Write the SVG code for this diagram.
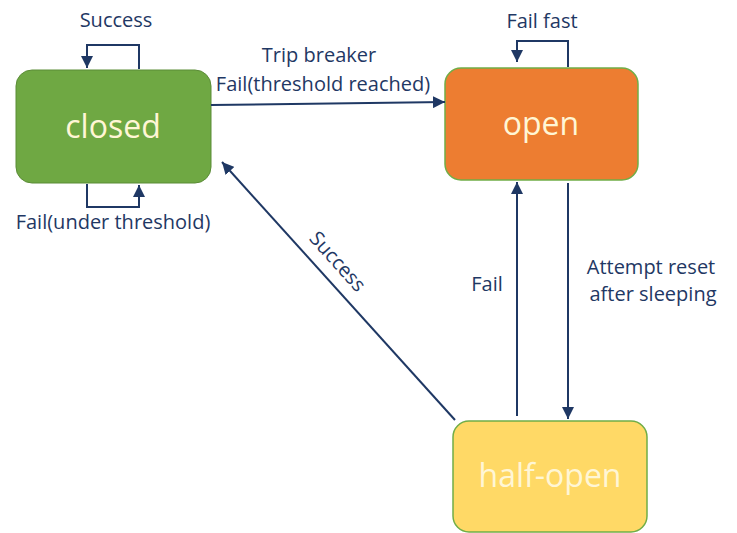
<svg xmlns="http://www.w3.org/2000/svg" width="737" height="533" viewBox="0 0 737 533">
<style>
.lbl{font-family:"Open Sans","Noto Sans",sans-serif;font-size:20px;fill:#1F3864;text-anchor:middle}
.nt{font-family:"Open Sans","Noto Sans",sans-serif;font-size:32px;fill:#FFF6D5;text-anchor:middle}
.ln{fill:none;stroke:#1F3864;stroke-width:2}
</style>
<defs>
<marker id="a" viewBox="0 0 10 10" refX="10" refY="5" markerWidth="6" markerHeight="6" orient="auto">
<path d="M0,0 L10,5 L0,10 z" fill="#1F3864"/>
</marker>
</defs>
<g id="closed">
<rect x="16" y="70" width="195" height="113" rx="16" fill="#6FA843" stroke="#5B8C37" stroke-width="1"/>
<text class="nt" x="113" y="138">closed</text>
</g>
<g id="open">
<rect x="445" y="68" width="193" height="112" rx="16" fill="#ED7D31" stroke="#70AD47" stroke-width="1.5"/>
<text class="nt" x="541" y="135">open</text>
</g>
<g id="half-open">
<rect x="453" y="421" width="194" height="111" rx="16" fill="#FFD966" stroke="#70AD47" stroke-width="1.5"/>
<text class="nt" x="550" y="487">half-open</text>
</g>
<g id="connectors">
<path class="ln" d="M139,69 V45 H87 V68" marker-end="url(#a)"/>
<path class="ln" d="M87,184 V207 H139 V185" marker-end="url(#a)"/>
<path class="ln" d="M568,67 V41 H517 V62" marker-end="url(#a)"/>
<path class="ln" d="M211,105 L445,102" marker-end="url(#a)"/>
<path class="ln" d="M517,416 V182" marker-end="url(#a)"/>
<path class="ln" d="M568,183 V419" marker-end="url(#a)"/>
<path class="ln" d="M455,420 L222,162" marker-end="url(#a)"/>
</g>
<g id="labels">
<text class="lbl" x="116" y="27">Success</text>
<text class="lbl" x="113" y="229">Fail(under threshold)</text>
<text class="lbl" x="319" y="62">Trip breaker</text>
<text class="lbl" x="323" y="91">Fail(threshold reached)</text>
<text class="lbl" x="542" y="28">Fail fast</text>
<text class="lbl" x="487" y="291">Fail</text>
<text class="lbl" x="651" y="274">Attempt reset</text>
<text class="lbl" x="653" y="301">after sleeping</text>
<text class="lbl" transform="translate(337,262) rotate(48)" y="6">Success</text>
</g>
</svg>
